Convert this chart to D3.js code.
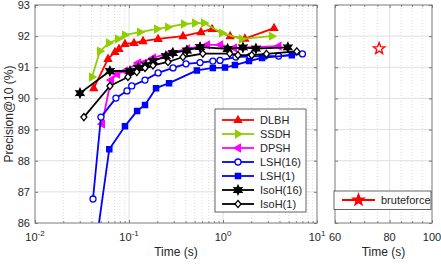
<!DOCTYPE html>
<html lang="en">
<head>
<meta charset="UTF-8">
<title>Precision@10 vs time</title>
<script src="https://d3js.org/d3.v7.min.js"></script>
<style>
  body { margin: 0; background: #fff; }
  text { font-family: "Liberation Sans", Arial, sans-serif; fill: #262626; }
</style>
</head>
<body>
<svg></svg>
<script>
// ---- data ----
const dlbhTime = [0.0422, 0.0598, 0.0709, 0.0782, 0.0906, 0.113, 0.141, 0.204, 0.375, 0.583, 0.765, 1.19, 1.71, 3.49];
const dlbhPrec = [90.33, 91.27, 91.49, 91.59, 91.75, 91.78, 91.84, 91.91, 92.0, 92.13, 92.23, 92.0, 91.92, 92.26];
const ssdhTime = [0.0404, 0.0491, 0.0613, 0.0764, 0.0907, 0.131, 0.199, 0.260, 0.385, 0.504, 0.628, 0.975, 1.59, 3.32];
const ssdhPrec = [90.69, 91.52, 91.78, 91.91, 92.04, 92.13, 92.23, 92.29, 92.39, 92.42, 92.42, 92.10, 91.91, 92.0];
const dpshTime = [0.0516, 0.0643, 0.0744, 0.0906, 0.125, 0.180, 0.273, 0.415, 0.675, 0.93, 1.31, 3.9];
const dpshPrec = [89.18, 90.59, 90.78, 90.88, 91.14, 91.30, 91.46, 91.59, 91.72, 91.72, 91.62, 91.68];
const lsh16Time = [0.0414, 0.0503, 0.0726, 0.0952, 0.107, 0.148, 0.204, 0.294, 0.404, 0.57, 0.78, 0.93, 1.37, 1.94, 2.79, 3.9, 7.0];
const lsh16Prec = [86.77, 89.40, 90.01, 90.24, 90.40, 90.59, 90.82, 90.98, 91.11, 91.15, 91.20, 91.22, 91.33, 91.35, 91.36, 91.36, 91.43];
const lsh1Time = [0.045, 0.0617, 0.0906, 0.122, 0.148, 0.194, 0.267, 0.527, 0.78, 1.05, 1.34, 1.89, 2.6, 5.4];
const lsh1Prec = [85.4, 88.37, 89.11, 89.60, 89.79, 90.33, 90.49, 90.90, 90.98, 90.99, 91.07, 91.20, 91.30, 91.39];
const isoh16Time = [0.0301, 0.0627, 0.1025, 0.125, 0.151, 0.180, 0.247, 0.293, 0.413, 0.57, 1.12, 1.63, 2.24, 4.9];
const isoh16Prec = [90.17, 90.88, 90.88, 90.98, 91.07, 91.20, 91.36, 91.46, 91.54, 91.65, 91.59, 91.64, 91.60, 91.64];
const isoh1Time = [0.0331, 0.0627, 0.0974, 0.121, 0.148, 0.180, 0.26, 0.375, 0.61, 1.18, 1.44, 2.02, 2.9, 6.1];
const isoh1Prec = [89.40, 90.40, 90.69, 90.85, 90.98, 91.06, 91.17, 91.33, 91.44, 91.44, 91.39, 91.39, 91.43, 91.51];
const bruteTime = [75.7];
const brutePrec = [91.6];

const yTicks = [86, 87, 88, 89, 90, 91, 92, 93];
const xTicksLeft = [0.01, 0.1, 1, 10];
const xTickExp = ["-2", "-1", "0", "1"];
const xTicksRight = [60, 80, 100];

const series = [
  { name: "DLBH", t: dlbhTime, v: dlbhPrec, color: "#ff0000", marker: "triUp" },
  { name: "SSDH", t: ssdhTime, v: ssdhPrec, color: "#8fce00", marker: "triRight" },
  { name: "DPSH", t: dpshTime, v: dpshPrec, color: "#ff00ff", marker: "triLeft" },
  { name: "LSH(16)", t: lsh16Time, v: lsh16Prec, color: "#0000ff", marker: "circle" },
  { name: "LSH(1)", t: lsh1Time, v: lsh1Prec, color: "#0000ff", marker: "square" },
  { name: "IsoH(16)", t: isoh16Time, v: isoh16Prec, color: "#000000", marker: "hexagram" },
  { name: "IsoH(1)", t: isoh1Time, v: isoh1Prec, color: "#000000", marker: "diamond" }
];

// ---- layout ----
const width = 441, height = 264;
const left = { x0: 35, x1: 317 };
const right = { x0: 335, x1: 432 };
const yTop = 5, yBot = 223;
const tickLabelY = 241, titleY = 256;

const svg = d3.select("svg").attr("width", width).attr("height", height);

const y = d3.scaleLinear().domain([86, 93]).range([yBot, yTop]);
const xL = d3.scaleLog().domain([0.01, 10]).range([left.x0, left.x1]);
const xR = d3.scaleLog().domain([60, 100]).range([right.x0, right.x1]);

function star(n, ro, ri) {
  const pts = [];
  for (let i = 0; i < 2 * n; i++) {
    const a = -Math.PI / 2 + i * Math.PI / n;
    const r = i % 2 ? ri : ro;
    pts.push([r * Math.cos(a), r * Math.sin(a)]);
  }
  return "M" + pts.map(p => p.join(",")).join("L") + "Z";
}

function markerPath(m) {
  const s = 4;
  switch (m) {
    case "triUp": return `M0,${-s}L${0.9 * s},${0.6 * s}L${-0.9 * s},${0.6 * s}Z`;
    case "triRight": return `M${s},0L${-0.6 * s},${0.9 * s}L${-0.6 * s},${-0.9 * s}Z`;
    case "triLeft": return `M${-s},0L${0.6 * s},${-0.9 * s}L${0.6 * s},${0.9 * s}Z`;
    case "circle": return "M3,0A3,3 0 1,1 -3,0A3,3 0 1,1 3,0Z";
    case "square": return "M-2.6,-2.6L2.6,-2.6L2.6,2.6L-2.6,2.6Z";
    case "diamond": return "M0,-3.6L3,0L0,3.6L-3,0Z";
    case "hexagram": return star(6, 4.6, 2.4);
    case "pentagram": return star(5, 6, 2.5);
  }
}
function markerFill(m, color) {
  return (m === "circle" || m === "diamond") ? "#fff" : color;
}

function drawFrame(x, x0, x1, minorVals, majorGrid) {
  const g = svg.append("g");
  // minor dotted grid
  g.selectAll(".mg").data(minorVals).join("line")
    .attr("x1", d => x(d)).attr("x2", d => x(d))
    .attr("y1", yTop).attr("y2", yBot)
    .attr("stroke", "#d4d4d4").attr("stroke-width", 0.8)
    .attr("stroke-dasharray", "1,2");
  // major grid
  g.selectAll(".vg").data(majorGrid).join("line")
    .attr("x1", d => x(d)).attr("x2", d => x(d))
    .attr("y1", yTop).attr("y2", yBot)
    .attr("stroke", "#e0e0e0").attr("stroke-width", 1);
  g.selectAll(".hg").data(yTicks.slice(1, -1)).join("line")
    .attr("x1", x0).attr("x2", x1)
    .attr("y1", d => y(d)).attr("y2", d => y(d))
    .attr("stroke", "#e0e0e0").attr("stroke-width", 1);
  return g;
}

function drawAxes(x, x0, x1, majorVals, minorVals) {
  const g = svg.append("g");
  g.append("g").attr("transform", `translate(0,${yBot})`)
    .call(d3.axisBottom(x).tickValues(majorVals).tickSize(-3).tickFormat(""))
    .call(a => a.select(".domain").remove());
  g.append("g").attr("transform", `translate(0,${yTop})`)
    .call(d3.axisTop(x).tickValues(majorVals).tickSize(-3).tickFormat(""))
    .call(a => a.select(".domain").remove());
  g.append("g").attr("transform", `translate(0,${yBot})`)
    .call(d3.axisBottom(x).tickValues(minorVals).tickSize(-1.8).tickFormat(""))
    .call(a => a.select(".domain").remove());
  g.append("g").attr("transform", `translate(0,${yTop})`)
    .call(d3.axisTop(x).tickValues(minorVals).tickSize(-1.8).tickFormat(""))
    .call(a => a.select(".domain").remove());
  g.append("g").attr("transform", `translate(${x0},0)`)
    .call(d3.axisLeft(y).tickValues(yTicks).tickSize(-3).tickFormat(""))
    .call(a => a.select(".domain").remove());
  g.append("g").attr("transform", `translate(${x1},0)`)
    .call(d3.axisRight(y).tickValues(yTicks).tickSize(-3).tickFormat(""))
    .call(a => a.select(".domain").remove());
  g.selectAll(".tick line").attr("stroke", "#262626").attr("stroke-width", 0.6);
  g.append("rect").attr("x", x0).attr("y", yTop)
    .attr("width", x1 - x0).attr("height", yBot - yTop)
    .attr("fill", "none").attr("stroke", "#7a7a7a").attr("stroke-width", 1);
}

// ---- left panel ----
const minorL = [];
[0.01, 0.1, 1].forEach(d => { for (let k = 2; k <= 9; k++) minorL.push(d * k); });
drawFrame(xL, left.x0, left.x1, minorL, [0.1, 1]);

svg.append("clipPath").attr("id", "clipL").append("rect")
  .attr("x", left.x0).attr("y", yTop).attr("width", left.x1 - left.x0).attr("height", yBot - yTop);

const line = d3.line().x(d => xL(d[0])).y(d => y(d[1]));
const plot = svg.append("g").attr("clip-path", "url(#clipL)");
series.forEach(s => {
  const pts = s.t.map((t, i) => [t, s.v[i]]);
  plot.append("path").datum(pts)
    .attr("d", line).attr("fill", "none")
    .attr("stroke", s.color).attr("stroke-width", 1.8).attr("stroke-linejoin", "round");
  plot.selectAll(null).data(pts).join("path")
    .attr("d", markerPath(s.marker))
    .attr("transform", d => `translate(${xL(d[0])},${y(d[1])})`)
    .attr("fill", markerFill(s.marker, s.color))
    .attr("stroke", s.color).attr("stroke-width", 1.3);
});

drawAxes(xL, left.x0, left.x1, xTicksLeft, minorL);

// y tick labels
svg.selectAll(".yl").data(yTicks).join("text")
  .attr("x", 30).attr("y", d => y(d)).attr("dy", "0.36em")
  .attr("text-anchor", "end").attr("font-size", 11).text(d => d);

// x tick labels (10^n)
xTicksLeft.forEach((t, i) => {
  const tx = svg.append("text").attr("x", xL(t)).attr("y", tickLabelY)
    .attr("text-anchor", "middle").attr("font-size", 11);
  tx.append("tspan").text("10");
  tx.append("tspan").attr("font-size", 8).attr("dy", -5).text(xTickExp[i]);
});

// legend
const lg = svg.append("g");
lg.append("rect").attr("x", 215).attr("y", 109).attr("width", 91).attr("height", 103)
  .attr("fill", "#fff").attr("stroke", "#404040").attr("stroke-width", 0.8);
series.forEach((s, i) => {
  const ly = 120 + i * 14;
  lg.append("line").attr("x1", 222).attr("x2", 254).attr("y1", ly).attr("y2", ly)
    .attr("stroke", s.color).attr("stroke-width", 1.8);
  lg.append("path").attr("d", markerPath(s.marker))
    .attr("transform", `translate(238,${ly})`)
    .attr("fill", markerFill(s.marker, s.color))
    .attr("stroke", s.color).attr("stroke-width", 1.3);
  lg.append("text").attr("x", 260).attr("y", ly).attr("dy", "0.36em")
    .attr("font-size", 11).text(s.name);
});

svg.append("text").attr("x", (left.x0 + left.x1) / 2).attr("y", titleY)
  .attr("text-anchor", "middle").attr("font-size", 12).text("Time (s)");
svg.append("text").attr("transform", `translate(13,114) rotate(-90)`)
  .attr("text-anchor", "middle").attr("font-size", 12).text("Precision@10 (%)");

// ---- right panel ----
const minorR = [65, 70, 75, 85, 90, 95];
drawFrame(xR, right.x0, right.x1, minorR, [80]);
svg.selectAll(".bf").data(bruteTime.map((t, i) => [t, brutePrec[i]])).join("path")
  .attr("d", markerPath("pentagram"))
  .attr("transform", d => `translate(${xR(d[0])},${y(d[1])})`)
  .attr("fill", "none").attr("stroke", "#ff0000").attr("stroke-width", 1.3);
drawAxes(xR, right.x0, right.x1, xTicksRight, minorR);

svg.selectAll(".xr").data(xTicksRight).join("text")
  .attr("x", d => xR(d)).attr("y", tickLabelY)
  .attr("text-anchor", "middle").attr("font-size", 11).text(d => d);

const lg2 = svg.append("g");
lg2.append("rect").attr("x", 334).attr("y", 191).attr("width", 97).attr("height", 18.5)
  .attr("fill", "#fff").attr("stroke", "#404040").attr("stroke-width", 0.8);
lg2.append("line").attr("x1", 342).attr("x2", 375).attr("y1", 200).attr("y2", 200)
  .attr("stroke", "#ff0000").attr("stroke-width", 1.8);
lg2.append("path").attr("d", markerPath("pentagram"))
  .attr("transform", "translate(358.5,200)")
  .attr("fill", "#ff0000").attr("stroke", "#ff0000").attr("stroke-width", 1.3);
lg2.append("text").attr("x", 381).attr("y", 200).attr("dy", "0.36em")
  .attr("font-size", 11).text("bruteforce");

svg.append("text").attr("x", (right.x0 + right.x1) / 2).attr("y", titleY)
  .attr("text-anchor", "middle").attr("font-size", 12).text("Time (s)");
</script>
</body>
</html>
